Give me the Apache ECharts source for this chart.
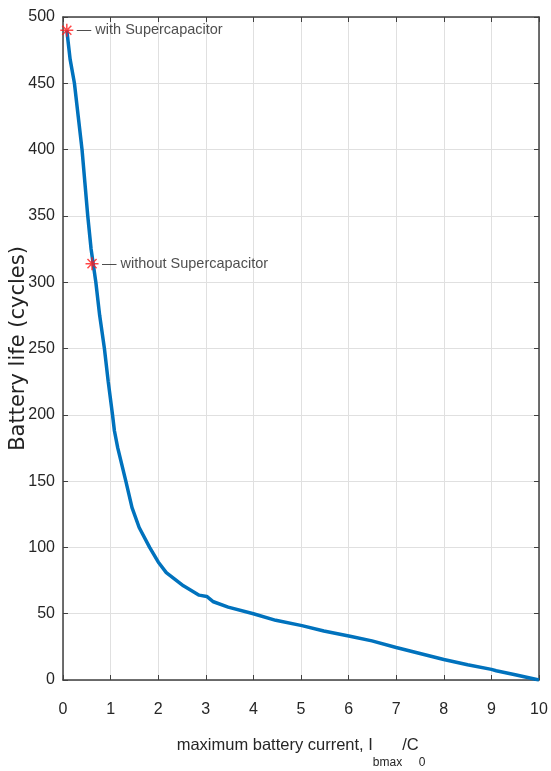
<!DOCTYPE html>
<html>
<head>
<meta charset="utf-8">
<script src="https://cdn.jsdelivr.net/npm/echarts@6/dist/echarts.min.js"></script>
<style>
	html, body { margin: 0; padding: 0; background: #fff; }
	#chart { width: 551px; height: 771px; }
</style>
</head>
<body>
<div id="chart"></div>
<script>
// battery life curve
var currentRatio = [0.08, 0.15, 0.24, 0.32, 0.40, 0.46, 0.52, 0.59, 0.69, 0.77, 0.87, 0.95, 1.04, 1.08, 1.15, 1.32, 1.45, 1.60, 1.82, 2.0, 2.17, 2.53, 2.86, 3.02, 3.16, 3.47, 4.0, 4.47, 5.02, 5.48, 6.03, 6.49, 7.0, 7.5, 8.0, 8.5, 9.0, 9.1, 9.5, 10.0];
var lifeCycles = [490, 468, 450, 425, 400, 375, 350, 325, 300, 275, 250, 225, 200, 188, 175, 150, 130, 115, 100, 89, 81, 71, 64, 63, 59, 55, 50, 45, 41, 37, 33, 29.5, 24.5, 20, 15.5, 11.5, 8, 7, 4, 0];

// marked operating points
var markNames = ['with Supercapacitor', 'without Supercapacitor'];
var markX = [0.08, 0.61];
var markY = [490, 314];

var xTicks = { min: 0, max: 10, interval: 1 };
var yTicks = { min: 0, max: 500, interval: 50 };

var font = "'Liberation Sans', Arial, sans-serif";
var axisColor = '#404040';
var textColor = '#262626';

var chart = echarts.init(document.getElementById('chart'));

var lineData = currentRatio.map(function (x, i) { return [x, lifeCycles[i]]; });
var markData = markX.map(function (x, i) { return { value: [x, markY[i]], name: markNames[i] }; });

var asterisk = 'path://M0,-10L0,10M-10,0L10,0M-7,-7L7,7M-7,7L7,-7';

function frameAxis(pos, base) {
	return Object.assign({
		type: 'value',
		position: pos,
		axisLine: { show: true, onZero: false, lineStyle: { color: axisColor, width: 1.5 } },
		axisTick: { show: true, inside: true, length: 5, lineStyle: { color: axisColor } },
		axisLabel: { show: false },
		splitLine: { show: false }
	}, base);
}

var option = {
	animation: false,
	backgroundColor: '#fff',
	grid: { left: 63, right: 12, top: 17, bottom: 91, outerBoundsMode: 'none', containLabel: false },
	xAxis: [
		{
			type: 'value',
			position: 'bottom',
			min: xTicks.min, max: xTicks.max, interval: xTicks.interval,
			axisLine: { show: true, onZero: false, lineStyle: { color: axisColor, width: 1.5 } },
			axisTick: { inside: true, length: 5, lineStyle: { color: axisColor } },
			axisLabel: { fontFamily: font, fontSize: 16, color: textColor, margin: 22 },
			splitLine: { show: true, lineStyle: { color: '#e0e0e0', width: 1 } },
			name: 'maximum battery current, I{sub|bmax}/C{sub|0}',
			nameLocation: 'middle',
			nameGap: 41,
			nameMoveOverlap: false,
			nameTextStyle: {
				fontFamily: font, fontSize: 16.5, color: textColor,
				lineHeight: 48,
				rich: {
					sub: { fontFamily: font, fontSize: 12, color: textColor, lineHeight: 12, verticalAlign: 'bottom' }
				}
			}
		},
		frameAxis('top', { min: xTicks.min, max: xTicks.max, interval: xTicks.interval })
	],
	yAxis: [
		{
			type: 'value',
			position: 'left',
			min: yTicks.min, max: yTicks.max, interval: yTicks.interval,
			axisLine: { show: true, onZero: false, lineStyle: { color: axisColor, width: 1.5 } },
			axisTick: { show: true, inside: true, length: 5, lineStyle: { color: axisColor } },
			axisLabel: { fontFamily: font, fontSize: 16, color: textColor, margin: 8 },
			splitLine: { show: true, lineStyle: { color: '#e0e0e0', width: 1 } },
			name: 'Battery life (cycles)',
			nameLocation: 'middle',
			nameGap: 34,
			nameMoveOverlap: false,
			nameTextStyle: { fontFamily: "'DejaVu Sans', sans-serif", fontSize: 21, color: '#222' }
		},
		frameAxis('right', { min: yTicks.min, max: yTicks.max, interval: yTicks.interval })
	],
	series: [
		{
			name: 'battery life',
			type: 'line',
			data: lineData,
			symbol: 'none',
			lineStyle: { color: '#0072BD', width: 3.5 },
			z: 2
		},
		{
			name: 'marks',
			type: 'scatter',
			data: markData,
			symbol: asterisk,
			symbolSize: 13,
			itemStyle: { color: 'none', borderColor: '#ff1a1a', borderWidth: 1.5 },
			label: {
				show: true,
				position: 'right',
				distance: 1,
				formatter: '\u2014 {b}',
				fontFamily: font,
				fontSize: 14.5,
				color: '#222'
			},
			z: 3
		}
	]
};

chart.setOption(option);
</script>
</body>
</html>
